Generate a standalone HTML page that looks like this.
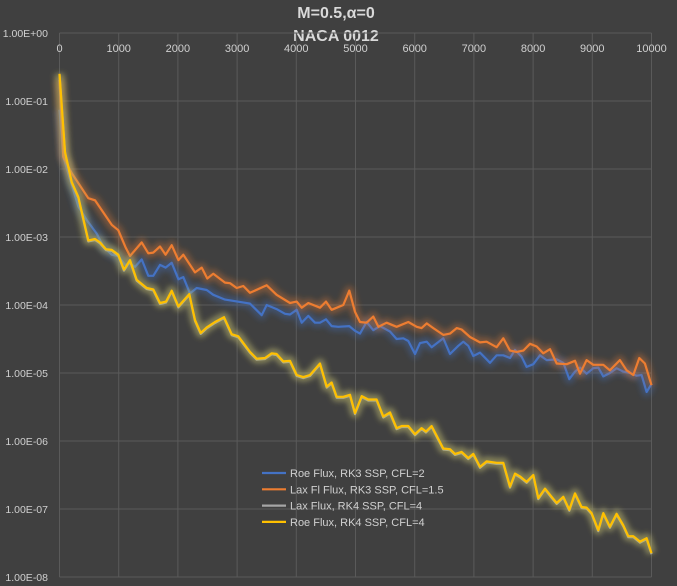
<!DOCTYPE html>
<html><head><meta charset="utf-8"><style>
html,body{margin:0;padding:0;background:#404040;}
svg{display:block;font-family:"Liberation Sans",sans-serif;}
</style></head><body>
<svg id="chart" width="677" height="586" viewBox="0 0 677 586">
<rect x="0" y="0" width="677" height="586" fill="#404040"/>
<defs><filter id="glow" x="-10%" y="-10%" width="120%" height="120%"><feGaussianBlur stdDeviation="3"/></filter></defs>
<text x="336" y="18" text-anchor="middle" font-size="16" font-weight="bold" fill="#d9d9d9">M=0.5,α=0</text>
<text x="336" y="41" text-anchor="middle" font-size="16" font-weight="bold" fill="#d9d9d9">NACA 0012</text>
<g id="grid"></g>
<g id="axes"></g>
<g id="series"></g>
<g id="legend"></g>
</svg>
<script>
const xTicks = [0,1000,2000,3000,4000,5000,6000,7000,8000,9000,10000];
const yTickExps = [0,-1,-2,-3,-4,-5,-6,-7,-8];
const yTickLabels = ["1.00E+00","1.00E-01","1.00E-02","1.00E-03","1.00E-04","1.00E-05","1.00E-06","1.00E-07","1.00E-08"];
const seriesNames = ["Roe Flux, RK3 SSP, CFL=2","Lax Fl Flux, RK3 SSP, CFL=1.5","Lax Flux, RK4 SSP, CFL=4","Roe Flux, RK4 SSP, CFL=4"];
const blueIter = [0,64,318,459,628,740,882,994,1106,1191,1275,1388,1500,1585,1698,1793,1895,2008,2092,2205,2317,2486,2598,2796,3218,3415,3500,3668,3809,3894,4006,4091,4203,4316,4400,4502,4597,4710,4896,4991,5076,5188,5301,5414,5583,5695,5808,5892,6005,6089,6202,6286,6483,6596,6737,6821,6906,6990,7103,7272,7384,7497,7609,7694,7806,7891,8004,8116,8229,8398,8510,8612,8707,8792,8904,9017,9101,9186,9298,9411,9524,9636,9749,9833,9918,10000];
const blueLog = [-1.13,-1.82,-2.55,-2.75,-2.95,-3.14,-3.26,-3.28,-3.41,-3.39,-3.44,-3.33,-3.57,-3.57,-3.41,-3.45,-3.38,-3.62,-3.59,-3.83,-3.75,-3.78,-3.85,-3.92,-3.98,-4.15,-4.00,-4.06,-4.13,-4.14,-4.07,-4.26,-4.16,-4.26,-4.26,-4.21,-4.31,-4.32,-4.31,-4.38,-4.42,-4.25,-4.37,-4.31,-4.39,-4.50,-4.49,-4.53,-4.72,-4.56,-4.54,-4.62,-4.49,-4.72,-4.60,-4.54,-4.60,-4.75,-4.70,-4.85,-4.74,-4.74,-4.78,-4.66,-4.76,-4.91,-4.87,-4.74,-4.81,-4.80,-4.85,-5.09,-4.98,-4.92,-5.01,-4.93,-4.92,-5.05,-5.00,-4.93,-4.98,-5.00,-5.04,-5.03,-5.28,-5.16];
const orangeIter = [0,64,206,487,600,882,994,1115,1191,1388,1500,1585,1698,1793,1895,2008,2092,2289,2402,2497,2598,2796,2880,2993,3105,3218,3500,3668,3894,4006,4091,4203,4400,4502,4597,4794,4896,4991,5076,5188,5301,5386,5526,5695,5892,6033,6117,6202,6314,6483,6596,6709,6793,6934,7103,7215,7384,7497,7609,7722,7835,7947,8060,8172,8285,8398,8567,8707,8792,8904,9017,9186,9298,9467,9580,9692,9794,9889,10000];
const orangeLog = [-0.69,-1.82,-2.06,-2.43,-2.46,-2.82,-2.90,-3.15,-3.28,-3.08,-3.24,-3.23,-3.14,-3.26,-3.12,-3.34,-3.26,-3.52,-3.45,-3.61,-3.54,-3.67,-3.68,-3.75,-3.72,-3.82,-3.71,-3.85,-3.97,-3.95,-4.04,-3.97,-4.04,-3.95,-4.07,-4.00,-3.79,-4.10,-4.25,-4.26,-4.17,-4.32,-4.26,-4.32,-4.25,-4.32,-4.34,-4.27,-4.34,-4.44,-4.42,-4.34,-4.36,-4.47,-4.55,-4.54,-4.62,-4.49,-4.67,-4.69,-4.67,-4.57,-4.61,-4.71,-4.65,-4.86,-4.87,-4.82,-5.01,-4.81,-4.88,-4.88,-4.96,-4.81,-4.96,-5.03,-4.78,-4.86,-5.18];
const yellowIter = [0,93,206,318,487,600,684,785,882,994,1090,1191,1304,1473,1585,1698,1799,1895,2008,2092,2193,2289,2385,2486,2627,2779,2908,3020,3218,3331,3471,3584,3668,3781,3894,4006,4119,4231,4400,4513,4597,4682,4794,4907,4991,5104,5217,5357,5470,5583,5695,5780,5892,6005,6117,6191,6286,6483,6596,6680,6793,6906,6990,7103,7215,7384,7497,7609,7694,7778,7891,8004,8088,8201,8313,8398,8510,8612,8707,8820,8904,8989,9101,9186,9298,9411,9524,9608,9692,9805,9918,10000];
const yellowLog = [-0.60,-1.75,-2.19,-2.41,-3.05,-3.03,-3.08,-3.18,-3.19,-3.26,-3.48,-3.34,-3.63,-3.75,-3.77,-3.97,-3.95,-3.79,-4.02,-3.94,-3.84,-4.22,-4.41,-4.33,-4.25,-4.18,-4.43,-4.46,-4.69,-4.79,-4.78,-4.71,-4.72,-4.83,-4.82,-5.03,-5.06,-5.03,-4.86,-5.20,-5.14,-5.35,-5.35,-5.32,-5.59,-5.34,-5.39,-5.39,-5.64,-5.58,-5.81,-5.78,-5.78,-5.90,-5.81,-5.86,-5.78,-6.11,-6.12,-6.19,-6.16,-6.25,-6.19,-6.38,-6.30,-6.32,-6.32,-6.67,-6.48,-6.52,-6.60,-6.50,-6.84,-6.70,-6.82,-6.91,-6.82,-7.01,-6.77,-6.97,-6.98,-7.06,-7.31,-7.06,-7.26,-7.07,-7.24,-7.40,-7.40,-7.48,-7.43,-7.65];
const grayIter = yellowIter.slice();
const grayLog = yellowLog.slice();

const NS = "http://www.w3.org/2000/svg";
const X0 = 59.5, X1 = 651.5, Y0 = 33, Y1 = 577;
function xs(i){ return X0 + (i/10000)*(X1-X0); }
function ys(l){ return Y0 + (0 - l)/8*(Y1-Y0); }
function mk(tag, parent){ const e = document.createElementNS(NS, tag); parent.appendChild(e); return e; }

const grid = document.getElementById('grid');
const axes = document.getElementById('axes');
xTicks.forEach((t, k) => {
  const ln = mk('line', grid);
  
  
  ln.setAttribute('x1', xs(t)); ln.setAttribute('x2', xs(t));
  ln.setAttribute('y1', Y0); ln.setAttribute('y2', Y1);
  ln.setAttribute('stroke', '#5a5a5a'); ln.setAttribute('stroke-width', '1');
  const tx = mk('text', axes);
  
  
  tx.setAttribute('x', xs(t)); tx.setAttribute('y', 52);
  tx.setAttribute('text-anchor', 'middle'); tx.setAttribute('font-size', '11');
  tx.setAttribute('fill', '#d0d0d0');
  tx.textContent = String(t);
});
yTickExps.forEach((e, k) => {
  const ln = mk('line', grid);
  
  
  ln.setAttribute('x1', X0); ln.setAttribute('x2', X1);
  ln.setAttribute('y1', ys(e)); ln.setAttribute('y2', ys(e));
  ln.setAttribute('stroke', '#5a5a5a'); ln.setAttribute('stroke-width', '1');
  const tx = mk('text', axes);
  
  
  tx.setAttribute('x', 48); tx.setAttribute('y', ys(e) + 4);
  tx.setAttribute('text-anchor', 'end'); tx.setAttribute('font-size', '10.5');
  tx.setAttribute('fill', '#d0d0d0');
  tx.textContent = yTickLabels[k];
});

const series = document.getElementById('series');
const defs = [
  {iter: blueIter, vals: blueLog, color: '#4472c4', glow: '#4472c4', name: 'roe-rk3-line'},
  {iter: orangeIter, vals: orangeLog, color: '#ed7d31', glow: '#ed7d31', name: 'lax-rk3-line'},
  {iter: grayIter, vals: grayLog, color: '#a5a5a5', glow: '#a5a5a5', name: 'lax-rk4-line'},
  {iter: yellowIter, vals: yellowLog, color: '#ffc000', glow: '#c8c040', name: 'roe-rk4-line'}
];
defs.forEach((s, k) => {
  const pts = s.iter.map((it, j) => xs(it).toFixed(1) + ',' + ys(s.vals[j]).toFixed(1)).join(' ');
  const g = mk('polyline', series);
  
  
  g.setAttribute('points', pts); g.setAttribute('fill', 'none');
  g.setAttribute('stroke', s.glow); g.setAttribute('stroke-width', '9');
  g.setAttribute('stroke-opacity', '0.35'); g.setAttribute('filter', 'url(#glow)');
  g.setAttribute('stroke-linejoin', 'round');
  const p = mk('polyline', series);
  
  
  p.setAttribute('points', pts); p.setAttribute('fill', 'none');
  p.setAttribute('stroke', s.color); p.setAttribute('stroke-width', '2.2');
  p.setAttribute('stroke-linejoin', 'round');
  if (k === 2) p.setAttribute('transform', 'translate(0,1)');
});

const legend = document.getElementById('legend');
const legendColors = ['#4472c4','#ed7d31','#a5a5a5','#ffc000'];
seriesNames.forEach((n, k) => {
  const yy = 473 + k*16.3;
  const ln = mk('line', legend);
  
  
  ln.setAttribute('x1', 262); ln.setAttribute('x2', 286);
  ln.setAttribute('y1', yy); ln.setAttribute('y2', yy);
  ln.setAttribute('stroke', legendColors[k]); ln.setAttribute('stroke-width', '2.2');
  const tx = mk('text', legend);
  
  
  tx.setAttribute('x', 290); tx.setAttribute('y', yy + 4);
  tx.setAttribute('font-size', '11'); tx.setAttribute('fill', '#d0d0d0');
  tx.textContent = n;
});
</script>
</body></html>
